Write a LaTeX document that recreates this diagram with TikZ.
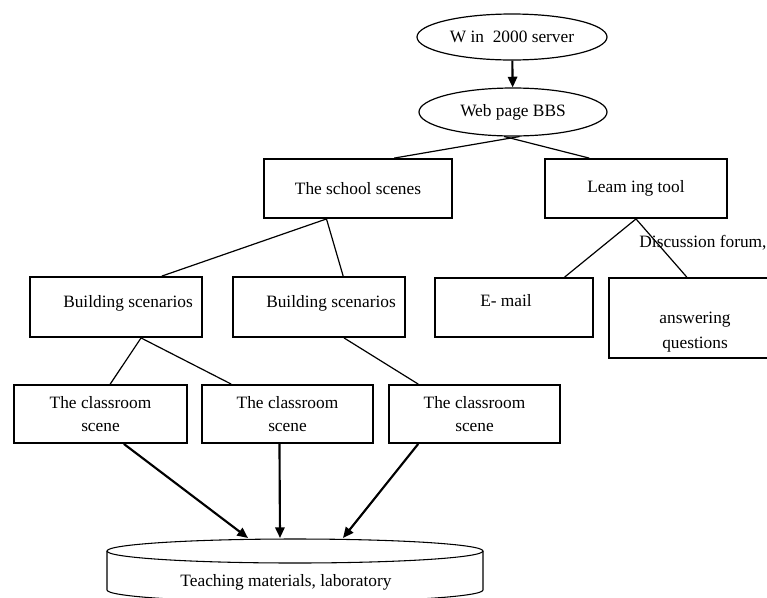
\documentclass[tikz,border=0pt]{standalone}
\usepackage{fontspec}
\setmainfont{Liberation Serif}
\usetikzlibrary{shapes.geometric,arrows.meta}

\tikzset{
  every node/.style = {font=\fontsize{13}{17.25}\selectfont},
  box/.style = {draw, line width=1.4pt, inner sep=0pt, align=center, minimum height=44.25pt},
  oval/.style = {draw, ellipse, line width=0.9pt, inner sep=0pt},
  link/.style = {line width=0.9pt},
  flow/.style = {line width=1.6pt, -{Triangle[length=8pt,width=7pt]}}
}

\begin{document}
\begin{tikzpicture}[x=0.75pt, y=0.75pt]
    \clip (0,0) rectangle (767,-597);

    \node[oval, minimum width=142.5pt, minimum height=34.5pt] (srv) at (512,-37) {W in\ \ 2000 server};
    \node[oval, minimum width=141pt, minimum height=36pt] (web) at (513,-112) {Web page\ BBS};

    \node[box, minimum width=141pt] (school) at (358,-188.5) {The school scenes};
    \node[box, minimum width=136.5pt] (learn) at (636,-188.5) {Leam ing tool};

    \node[box, minimum width=129pt, minimum height=45pt] (bld1) at (116,-307) {};
    \node[box, minimum width=129pt, minimum height=45pt] (bld2) at (319,-307) {};
    \node[] at ([shift={(12,4)}]bld1.center) {Building scenarios};
    \node[] at ([shift={(12,4)}]bld2.center) {Building scenarios};

    \node[box, minimum width=118.5pt] (mail) at (514,-307.5) {};
    \node[] at ([shift={(-8,7)}]mail.center) {E- mail};
    \node[box, minimum width=127.5pt, minimum height=60pt] (ans) at (694,-318) {};
    \node[align=center, font=\fontsize{13}{18.75}\selectfont] at ([shift={(1,-14)}]ans.center) {answering\\questions};
    \node[] (disc) at (703,-243) {Discussion forum,};

    \node[box, minimum width=129.75pt, minimum height=43.5pt] (cls1) at (100.5,-414) {The classroom\\scene};
    \node[box, minimum width=128.25pt, minimum height=43.5pt] (cls2) at (287.5,-414) {The classroom\\scene};
    \node[box, minimum width=128.25pt, minimum height=43.5pt] (cls3) at (474.5,-414) {The classroom\\scene};

    % database
    \draw[line width=0.8pt] (295,-551) ellipse (188 and 12);
    \draw[line width=0.8pt] (107,-551) -- (107,-590) arc (180:360:188 and 12) -- (483,-551);
    \node[] (db) at (286,-582) {Teaching materials, laboratory};
    \coordinate (in1) at (248,-538);
    \coordinate (in2) at (280,-538);
    \coordinate (in3) at (343,-538);

    \draw[flow] (srv) -- (web);

    \draw[link] (school.40) -- (web.285);
    \draw[link] (learn.147) -- (web.250);
    \draw[link] (school.224) -- (bld1.34);
    \draw[link] (school.224) -- (bld2.52);
    \draw[link] (bld1.309) -- (cls1.72);
    \draw[link] (bld1.309) -- (cls2.152);
    \draw[link] (bld2.309) -- (cls3.152);
    \draw[link] (learn.south) -- (mail.31);
    \draw[link] (learn.south) -- (ans.100);

    \draw[flow] (cls1.308) -- (in1);
    \draw[flow] (cls2.255) -- (in2);
    \draw[flow] (cls3.208) -- (in3);
\end{tikzpicture}
\end{document}
